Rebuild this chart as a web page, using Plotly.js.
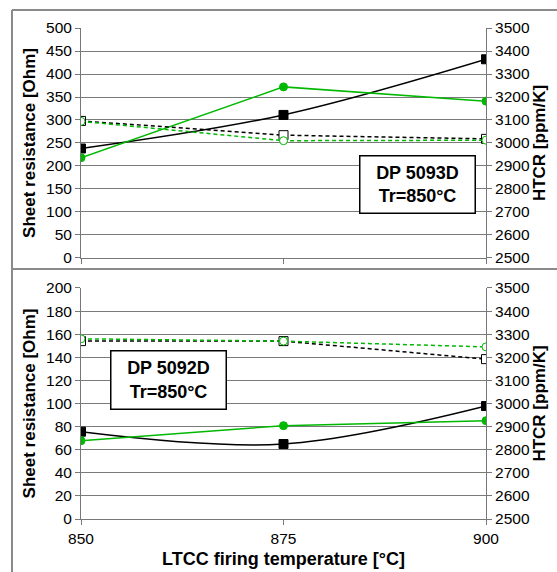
<!DOCTYPE html>
<html><head><meta charset="utf-8">
<script src="https://cdn.plot.ly/plotly-3.0.1.min.js"></script>
<style>body{margin:0;background:#fff}#c{width:557px;height:572px}</style>
</head><body><div id="c"></div>
<script>
const temps = [850, 875, 900];
// DP 5093D (top)
const r5093 = [238, 311, 432];
const r5093b = [218, 372, 341];
const htcr5093 = [3096, 3034, 3018];
const htcr5093b = [3094, 3010, 3012];
// DP 5092D (bottom)
const r5092 = [75.6, 64.9, 97.8];
const r5092b = [67.8, 80.8, 85.1];
const htcr5092 = [3270, 3270, 3192];
const htcr5092b = [3280, 3270, 3245];
const labels = ['DP 5093D<br>Tr=850°C', 'DP 5092D<br>Tr=850°C'];

const F = 'Liberation Sans, Arial, sans-serif';
const G = '#00b800';
function tr(y, xa, ya, color, sym, dash, shape, fill) {
  return {x: temps, y: y, xaxis: xa, yaxis: ya, mode: 'lines+markers', showlegend: false,
    line: {color: color, width: 1.5, dash: dash, shape: shape, smoothing: 1},
    marker: {symbol: sym, size: sym.indexOf('square') >= 0 ? 9 : 8, color: fill || color,
      line: {color: color, width: 1}}};
}
const D = '4px,3px';
const data = [
  tr(htcr5093, 'x', 'y2', '#000', 'square', D, 'linear', '#fff'),
  tr(htcr5093b, 'x', 'y2', G, 'circle', D, 'linear', '#fff'),
  tr(r5093, 'x', 'y', '#000', 'square', 'solid', 'spline'),
  tr(r5093b, 'x', 'y', G, 'circle', 'solid', 'linear'),
  tr(htcr5092, 'x2', 'y4', '#000', 'square', D, 'linear', '#fff'),
  tr(htcr5092b, 'x2', 'y4', G, 'circle', D, 'linear', '#fff'),
  tr(r5092, 'x2', 'y3', '#000', 'square', 'solid', 'spline'),
  tr(r5092b, 'x2', 'y3', G, 'circle', 'solid', 'linear'),
];
const tf = {family: F, size: 15.5, color: '#000'};
const ttl = {family: F, size: 17, color: '#000', weight: 'bold'};
const lx = {range: [850, 900], tickvals: temps, ticks: 'outside', ticklen: 5, tickcolor: '#777',
  showline: true, linecolor: '#777', linewidth: 1, showgrid: false, zeroline: false, tickfont: tf};
const ly = {ticks: 'outside', ticklen: 5, tickcolor: '#777', showline: true, linecolor: '#777',
  gridcolor: '#7a7a7a', gridwidth: 1, zeroline: false, tickfont: tf};
const boxFont = {family: F, size: 18, color: '#000', weight: 'bold'};
const layout = {
  width: 557, height: 572, paper_bgcolor: '#fff', plot_bgcolor: '#fff',
  margin: {l: 81, r: 71, t: 28, b: 53},
  font: {family: F},
  xaxis: Object.assign({}, lx, {anchor: 'y', showticklabels: false, domain: [0, 1]}),
  xaxis2: Object.assign({}, lx, {anchor: 'y3', domain: [0, 1],
    title: {text: 'LTCC firing temperature [°C]', font: Object.assign({}, ttl, {size: 18}), standoff: 6}}),
  yaxis: Object.assign({}, ly, {domain: [0.5316, 1], range: [0, 500], dtick: 50, anchor: 'x',
    title: {text: 'Sheet resistance [Ohm]', font: ttl, standoff: 6}}),
  yaxis2: Object.assign({}, ly, {overlaying: 'y', side: 'right', anchor: 'x', range: [2500, 3500], dtick: 100, showgrid: false,
    title: {text: 'HTCR [ppm/K]', font: ttl, standoff: 3}}),
  yaxis3: Object.assign({}, ly, {domain: [0, 0.4705], range: [0, 200], dtick: 20, anchor: 'x2',
    title: {text: 'Sheet resistance [Ohm]', font: ttl, standoff: 6}}),
  yaxis4: Object.assign({}, ly, {overlaying: 'y3', side: 'right', anchor: 'x2', range: [2500, 3500], dtick: 100, showgrid: false,
    title: {text: 'HTCR [ppm/K]', font: ttl, standoff: 3}}),
  annotations: [
    {xref: 'paper', yref: 'paper', x: 0.832, y: 0.682, xanchor: 'center', yanchor: 'middle',
      text: labels[0], showarrow: false, font: boxFont, bordercolor: '#000', borderwidth: 1.5,
      bgcolor: '#fff', width: 112, height: 54, align: 'center'},
    {xref: 'paper', yref: 'paper', x: 0.217, y: 0.284, xanchor: 'center', yanchor: 'middle',
      text: labels[1], showarrow: false, font: boxFont, bordercolor: '#000', borderwidth: 1.5,
      bgcolor: '#fff', width: 112, height: 55, align: 'center'}
  ],
  shapes: [
    {type: 'line', xref: 'paper', yref: 'paper', x0: -0.1704, x1: 1.2, y0: 1.0367, y1: 1.0367, line: {color: '#8a8a8a', width: 2}},
    {type: 'line', xref: 'paper', yref: 'paper', x0: -0.1704, x1: 1.2, y0: 0.5092, y1: 0.5092, line: {color: '#8a8a8a', width: 2}},
    {type: 'line', xref: 'paper', yref: 'paper', x0: -0.1704, x1: -0.1704, y0: 1.0367, y1: -0.2, line: {color: '#8a8a8a', width: 2}}
  ]
};
Plotly.newPlot('c', data, layout, {displayModeBar: false, staticPlot: true});
</script></body></html>
